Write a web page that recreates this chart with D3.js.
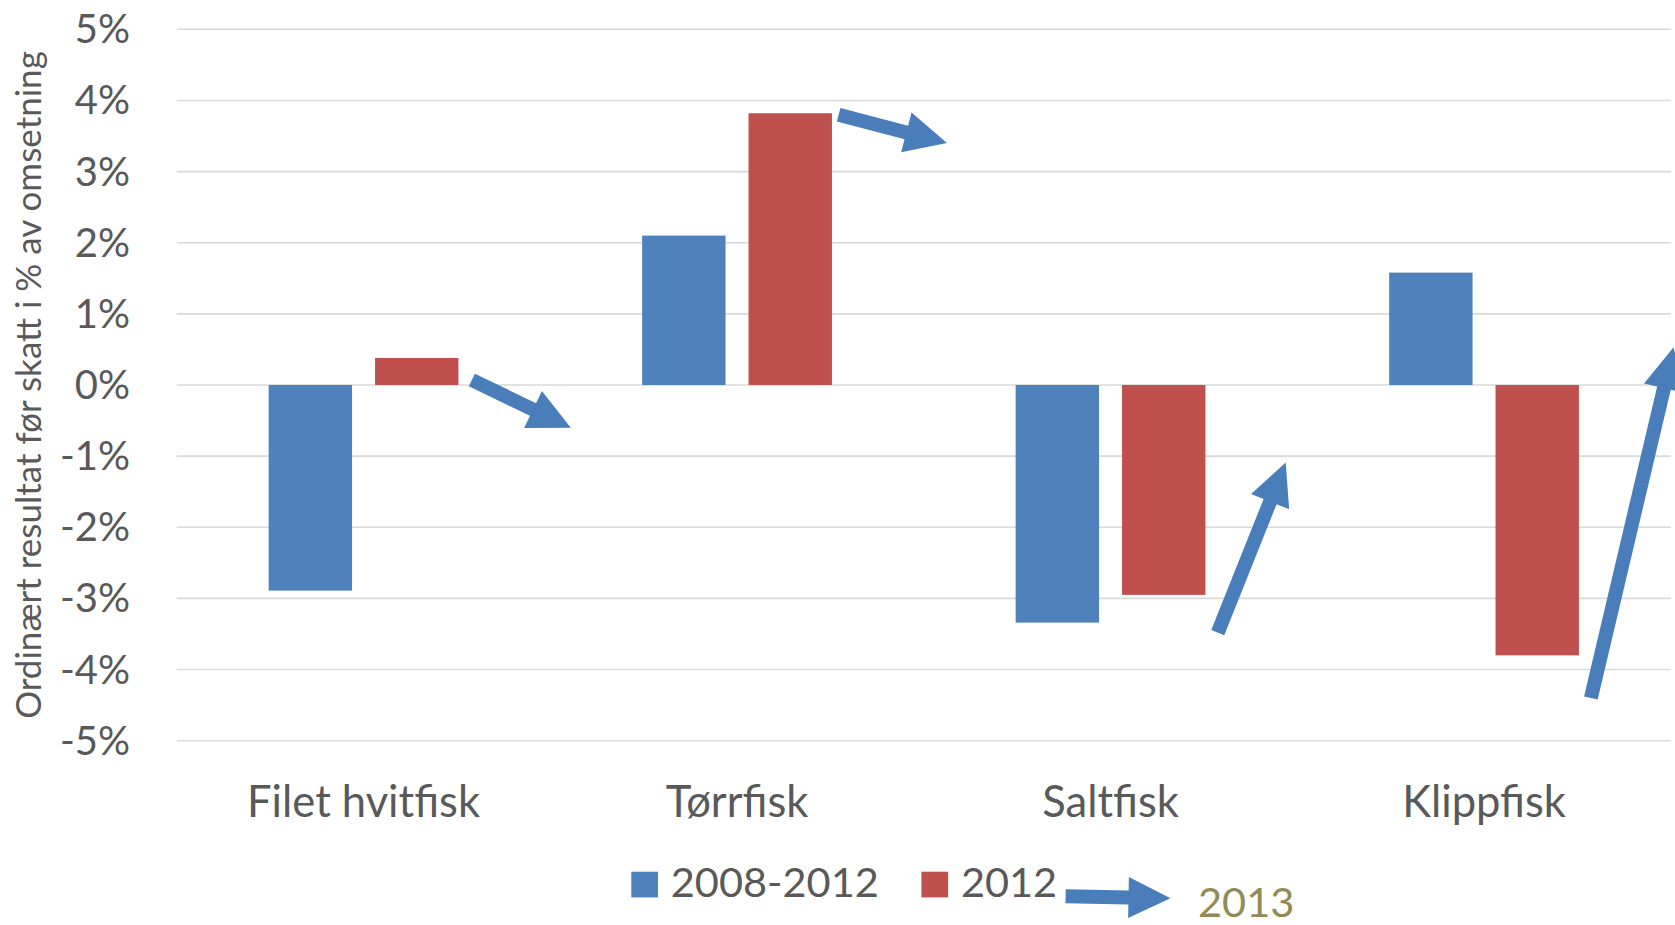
<!DOCTYPE html>
<html>
<head>
<meta charset="utf-8">
<script src="https://cdn.jsdelivr.net/npm/d3@7"></script>
<style>
  body { margin: 0; background: #fff; }
  text { font-family: Lato, "Open Sans", sans-serif; fill: #595959; }
</style>
</head>
<body>
<div id="chart"></div>
<script>
const width = 1675,
    height = 925;

const categories = ['Filet hvitfisk', 'Tørrfisk', 'Saltfisk', 'Klippfisk'];
const seriesNames = ['2008-2012', '2012'];
const values2008_2012 = [-2.89, 2.10, -3.34, 1.58];
const values2012 = [0.38, 3.82, -2.95, -3.80];
const yTicks = [-5, -4, -3, -2, -1, 0, 1, 2, 3, 4, 5];
const colors = ['#4f81bd', '#c0504d'];

// arrows drawn on the chart: [category, position in band, value] for tail and tip
const arrows = [
    { cat: 'Filet hvitfisk', from: [0.79, 0.07], to: [1.055, -0.60] },
    { cat: 'Tørrfisk', from: [0.772, 3.80], to: [1.062, 3.40] },
    { cat: 'Saltfisk', from: [0.787, -3.48], to: [0.969, -1.09] },
    { cat: 'Klippfisk', from: [0.786, -4.40], to: [1.0075, 0.53] }
];

const margin = { top: 29.3, right: 4.2, bottom: 184.3, left: 176.8 };

const svg = d3.select('#chart')
    .append('svg')
    .attr('width', width)
    .attr('height', height);

const x0 = d3.scaleBand()
    .domain(categories)
    .range([margin.left, width - margin.right]);

const x1 = d3.scaleBand()
    .domain(seriesNames)
    .range([(x0.bandwidth() - 189.8) / 2, (x0.bandwidth() + 189.8) / 2])
    .paddingInner(0.216);

const y = d3.scaleLinear()
    .domain([-5, 5])
    .range([height - margin.bottom, margin.top]);

// gridlines
svg.append('g')
    .selectAll('line')
    .data(yTicks)
    .enter()
    .append('line')
    .attr('x1', margin.left)
    .attr('x2', width - margin.right)
    .attr('y1', d => y(d))
    .attr('y2', d => y(d))
    .attr('stroke', '#d9d9d9')
    .attr('stroke-width', 1.6);

// y tick labels
svg.append('g')
    .selectAll('text')
    .data(yTicks)
    .enter()
    .append('text')
    .text(d => d + '%')
    .attr('x', 130)
    .attr('y', d => y(d) + 14)
    .attr('text-anchor', 'end')
    .style('font-size', '40px');

// bars
const rows = categories.map((c, i) => ({
    cat: c,
    vals: [values2008_2012[i], values2012[i]]
}));

const groups = svg.selectAll('.grp')
    .data(rows)
    .enter()
    .append('g')
    .attr('class', 'grp')
    .attr('transform', d => `translate(${x0(d.cat)},0)`);

groups.selectAll('rect')
    .data(d => d.vals.map((v, j) => ({ name: seriesNames[j], v: v, j: j })))
    .enter()
    .append('rect')
    .attr('x', d => x1(d.name))
    .attr('width', x1.bandwidth())
    .attr('y', d => y(Math.max(0, d.v)))
    .attr('height', d => Math.abs(y(d.v) - y(0)))
    .attr('fill', d => colors[d.j]);

// category labels
svg.append('g')
    .selectAll('text')
    .data(categories)
    .enter()
    .append('text')
    .text(d => d)
    .attr('x', d => x0(d) + x0.bandwidth() / 2)
    .attr('y', 817)
    .attr('text-anchor', 'middle')
    .style('font-size', '43.5px');

// y axis title
svg.append('text')
    .text('Ordinært resultat før skatt i % av omsetning')
    .attr('transform', `translate(41,${y(0)}) rotate(-90)`)
    .attr('text-anchor', 'middle')
    .style('font-size', '35px');

// block arrow helper
function blockArrow(x1p, y1p, x2p, y2p) {
    const dx = x2p - x1p, dy = y2p - y1p;
    const len = Math.sqrt(dx * dx + dy * dy);
    const ux = dx / len, uy = dy / len;
    const px = -uy, py = ux;
    const sw = 7, hw = 20.5, hl = 42;
    const bx = x2p - ux * hl, by = y2p - uy * hl;
    const pts = [
        [x1p + px * sw, y1p + py * sw],
        [bx + px * sw, by + py * sw],
        [bx + px * hw, by + py * hw],
        [x2p, y2p],
        [bx - px * hw, by - py * hw],
        [bx - px * sw, by - py * sw],
        [x1p - px * sw, y1p - py * sw]
    ];
    return 'M' + pts.map(p => p.join(',')).join('L') + 'Z';
}

svg.append('g')
    .selectAll('path')
    .data(arrows)
    .enter()
    .append('path')
    .attr('d', d => blockArrow(
        x0(d.cat) + d.from[0] * x0.bandwidth(), y(d.from[1]),
        x0(d.cat) + d.to[0] * x0.bandwidth(), y(d.to[1])))
    .attr('fill', '#4a7ebb');

// legend
const legend = svg.append('g');
const legendX = [631.3, 921.4];

seriesNames.forEach((name, i) => {
    legend.append('rect')
        .attr('x', legendX[i])
        .attr('y', 871.7)
        .attr('width', 26.7)
        .attr('height', 25.7)
        .attr('fill', colors[i]);
    legend.append('text')
        .text(name)
        .attr('x', legendX[i] + 39.5)
        .attr('y', 897.3)
        .style('font-size', '41.5px');
});

legend.append('path')
    .attr('d', blockArrow(1065.6, 896.3, 1170.5, 898.3))
    .attr('fill', '#4a7ebb');

legend.append('text')
    .text('2013')
    .attr('x', 1198)
    .attr('y', 917)
    .style('font-size', '41.5px')
    .style('fill', '#948a54');
</script>
</body>
</html>
